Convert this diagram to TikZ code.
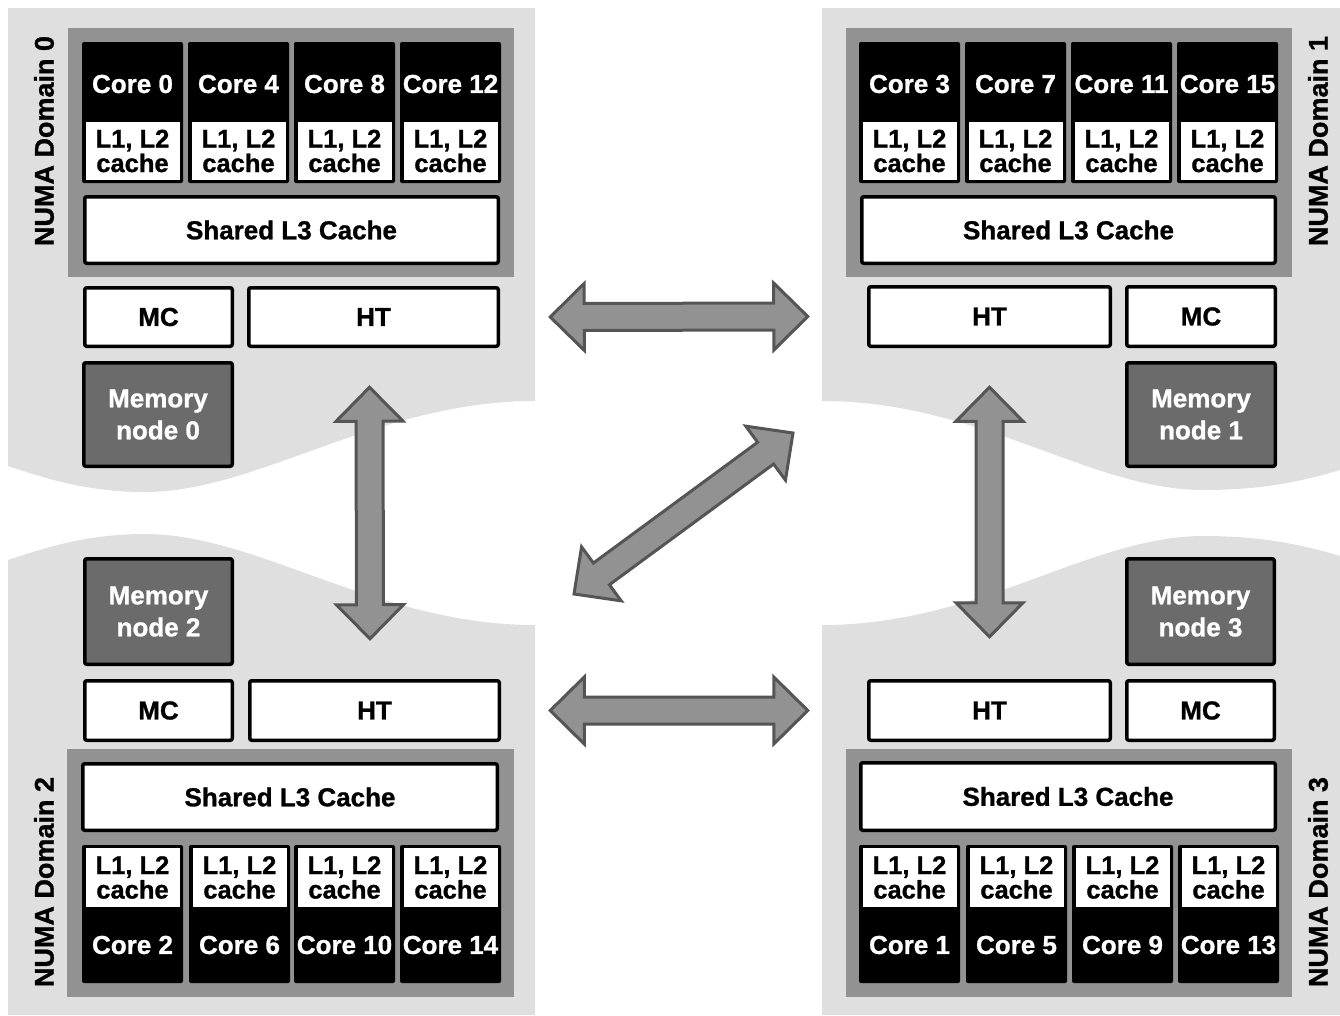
\documentclass[tikz,border=0pt]{standalone}
\usepackage{fontspec}
\setmainfont{Liberation Sans}[BoldFeatures={FakeBold=1}]
\usetikzlibrary{calc}

\definecolor{domainfill}{HTML}{DFDFDF}
\definecolor{chipfill}{HTML}{929292}
\definecolor{memfill}{HTML}{6B6B6B}
\definecolor{linkfill}{HTML}{929292}
\definecolor{linkline}{HTML}{555555}

\tikzset{
  every node/.style={font=\bfseries\fontsize{26}{25}\selectfont, inner sep=0pt, outer sep=0pt},
  numabg/.style={fill=domainfill, draw=none},
  chip/.style={rectangle, fill=chipfill},
  corebox/.style={rectangle, fill=black, rounded corners=2pt},
  cachebox/.style={rectangle, fill=white, align=center, font=\bfseries\fontsize{25.5}{24.5}\selectfont},
  whitebox/.style={rectangle, fill=white, draw=black, line width=3.5pt, rounded corners=2pt},
  membox/.style={rectangle, fill=memfill, draw=black, line width=3.5pt, rounded corners=2pt,
    text=white, align=center, font=\bfseries\fontsize{26}{32}\selectfont},
  corelabel/.style={text=white},
  domainlabel/.style={rotate=90, font=\bfseries\fontsize{27}{27}\selectfont},
  link/.style={fill=linkfill, draw=linkline, line width=3pt, line join=miter},
}

% box without border, given by its outer corners: style, name, x1, y1, x2, y2, text
\newcommand\plainbox[7]{%
  \node[#1, minimum width={(#5)-(#3)}, minimum height={(#6)-(#4)}] (#2)
    at ({((#3)+(#5))/2},{((#4)+(#6))/2}) {#7};}
% box with a 3.5pt border, given by its outer corners
\newcommand\linedbox[7]{%
  \node[#1, minimum width={(#5)-(#3)-3.5}, minimum height={(#6)-(#4)-3.5}] (#2)
    at ({((#3)+(#5))/2},{((#4)+(#6))/2}) {#7};}
% one core with its private cache: name, x1, x2, top, bottom, cache top, cache bottom, label y, label
\newcommand\corecol[9]{%
  \plainbox{corebox}{#1}{#2}{#4}{#3}{#5}{}%
  \plainbox{cachebox}{#1c}{(#2)+3.5}{#6}{(#3)-3.5}{#7}{L1, L2\\cache}%
  \node[corelabel] (#1t) at ({((#2)+(#3))/2},#8) {#9};}
% broad double-headed link between two points
\newcommand\fatlink[2]{%
  \coordinate (fl-s) at ($(#1)!34pt!(#2)$);
  \coordinate (fl-e) at ($(#2)!34pt!(#1)$);
  \draw[link] (#1) -- ($(fl-s)!33.5pt!90:(#2)$) -- ($(fl-s)!13.5pt!90:(#2)$)
    -- ($(fl-e)!13.5pt!-90:(#1)$) -- ($(fl-e)!33.5pt!-90:(#1)$) -- (#2)
    -- ($(fl-e)!33.5pt!90:(#1)$) -- ($(fl-e)!13.5pt!90:(#1)$)
    -- ($(fl-s)!13.5pt!-90:(#2)$) -- ($(fl-s)!33.5pt!-90:(#2)$) -- cycle;}

\begin{document}
\begin{tikzpicture}[x=1pt, y=-1pt]
\useasboundingbox (0,0) rectangle (1340,1015);

% NUMA domain backgrounds with wavy inner edges
\fill[numabg] (8,8) -- (535,8) -- (535,401)
  .. controls (377,401) and (258,492) .. (145,492)
  .. controls (90,492) and (50,480) .. (8,466) -- cycle;
\fill[numabg] (822,8) -- (1340,8) -- (1340,470)
  .. controls (1300,482) and (1260,490) .. (1203,490)
  .. controls (1090,490) and (980,401) .. (822,401) -- cycle;
\fill[numabg] (8,1015) -- (8,560)
  .. controls (50,546) and (90,534) .. (145,534)
  .. controls (258,534) and (377,625) .. (535,625) -- (535,1015) -- cycle;
\fill[numabg] (822,1015) -- (822,625)
  .. controls (980,625) and (1090,536) .. (1203,536)
  .. controls (1260,536) and (1300,544) .. (1340,556) -- (1340,1015) -- cycle;

% ---- Domain 0 ----
\plainbox{chip}{chip0}{68}{28}{514}{277}{}
\corecol{c0}{82}{183}{42}{183}{122}{180}{84}{Core 0}
\corecol{c4}{188}{289}{42}{183}{122}{180}{84}{Core 4}
\corecol{c8}{294}{395}{42}{183}{122}{180}{84}{Core 8}
\corecol{c12}{400}{501}{42}{183}{122}{180}{84}{Core 12}
\linedbox{whitebox}{l3a}{83}{195}{500}{265}{Shared L3 Cache}
\linedbox{whitebox}{mc0}{83}{286}{234}{348}{MC}
\linedbox{whitebox}{ht0}{247}{286}{500}{348}{HT}
\linedbox{membox}{mem0}{82}{361}{234}{468}{Memory\\node 0}
\node[domainlabel] (d0) at (44,141) {NUMA Domain 0};

% ---- Domain 1 ----
\plainbox{chip}{chip1}{846}{28}{1292}{277}{}
\corecol{c3}{859}{960}{42}{183}{122}{180}{84}{Core 3}
\corecol{c7}{965}{1066}{42}{183}{122}{180}{84}{Core 7}
\corecol{c11}{1071}{1172}{42}{183}{122}{180}{84}{Core 11}
\corecol{c15}{1177}{1278}{42}{183}{122}{180}{84}{Core 15}
\linedbox{whitebox}{l3b}{860}{195}{1277}{265}{Shared L3 Cache}
\linedbox{whitebox}{ht1}{867}{285}{1112}{348}{HT}
\linedbox{whitebox}{mc1}{1125}{285}{1277}{348}{MC}
\linedbox{membox}{mem1}{1125}{361}{1277}{468}{Memory\\node 1}
\node[domainlabel] (d1) at (1318,141) {NUMA Domain 1};

% ---- Domain 2 ----
\plainbox{chip}{chip2}{67}{749}{514}{997}{}
\linedbox{whitebox}{l3c}{81}{762}{499}{832}{Shared L3 Cache}
\corecol{c2}{82}{183}{845}{983}{848}{907}{945}{Core 2}
\corecol{c6}{189}{290}{845}{983}{848}{907}{945}{Core 6}
\corecol{c10}{294}{395}{845}{983}{848}{907}{945}{Core 10}
\corecol{c14}{400}{501}{845}{983}{848}{907}{945}{Core 14}
\linedbox{whitebox}{mc2}{83}{679}{234}{742}{MC}
\linedbox{whitebox}{ht2}{248}{679}{501}{742}{HT}
\linedbox{membox}{mem2}{83}{557}{234}{666}{Memory\\node 2}
\node[domainlabel] (d2) at (44,882) {NUMA Domain 2};

% ---- Domain 3 ----
\plainbox{chip}{chip3}{846}{749}{1292}{997}{}
\linedbox{whitebox}{l3d}{859}{761}{1277}{832}{Shared L3 Cache}
\corecol{c1}{859}{960}{845}{983}{848}{907}{945}{Core 1}
\corecol{c5}{966}{1067}{845}{983}{848}{907}{945}{Core 5}
\corecol{c9}{1072}{1173}{845}{983}{848}{907}{945}{Core 9}
\corecol{c13}{1178}{1279}{845}{983}{848}{907}{945}{Core 13}
\linedbox{whitebox}{ht3}{867}{679}{1112}{742}{HT}
\linedbox{whitebox}{mc3}{1125}{679}{1276}{742}{MC}
\linedbox{membox}{mem3}{1125}{557}{1276}{666}{Memory\\node 3}
\node[domainlabel] (d3) at (1318,882) {NUMA Domain 3};

% ---- HyperTransport links ----
\coordinate (l01a) at ($(ht0.east)+(52,0)$);
\coordinate (l01b) at ($(ht1.west)+(-61,0)$);
\coordinate (l23a) at ($(ht2.east)+(51,0)$);
\coordinate (l23b) at ($(ht3.west)+(-61,0)$);
\coordinate (l02a) at ($(ht0.south)+(-4,41)$);
\coordinate (l02b) at ($(ht2.north)+(-4.5,-42)$);
\coordinate (l13a) at ($(ht1.south)+(0,41)$);
\coordinate (l13b) at ($(ht3.north)+(0,-44)$);
\coordinate (l12a) at (574,594);
\coordinate (l12b) at (793,433);
\fatlink{l01a}{l01b}
\fatlink{l23a}{l23b}
\fatlink{l02a}{l02b}
\fatlink{l13a}{l13b}
\fatlink{l12a}{l12b}
\end{tikzpicture}
\end{document}
